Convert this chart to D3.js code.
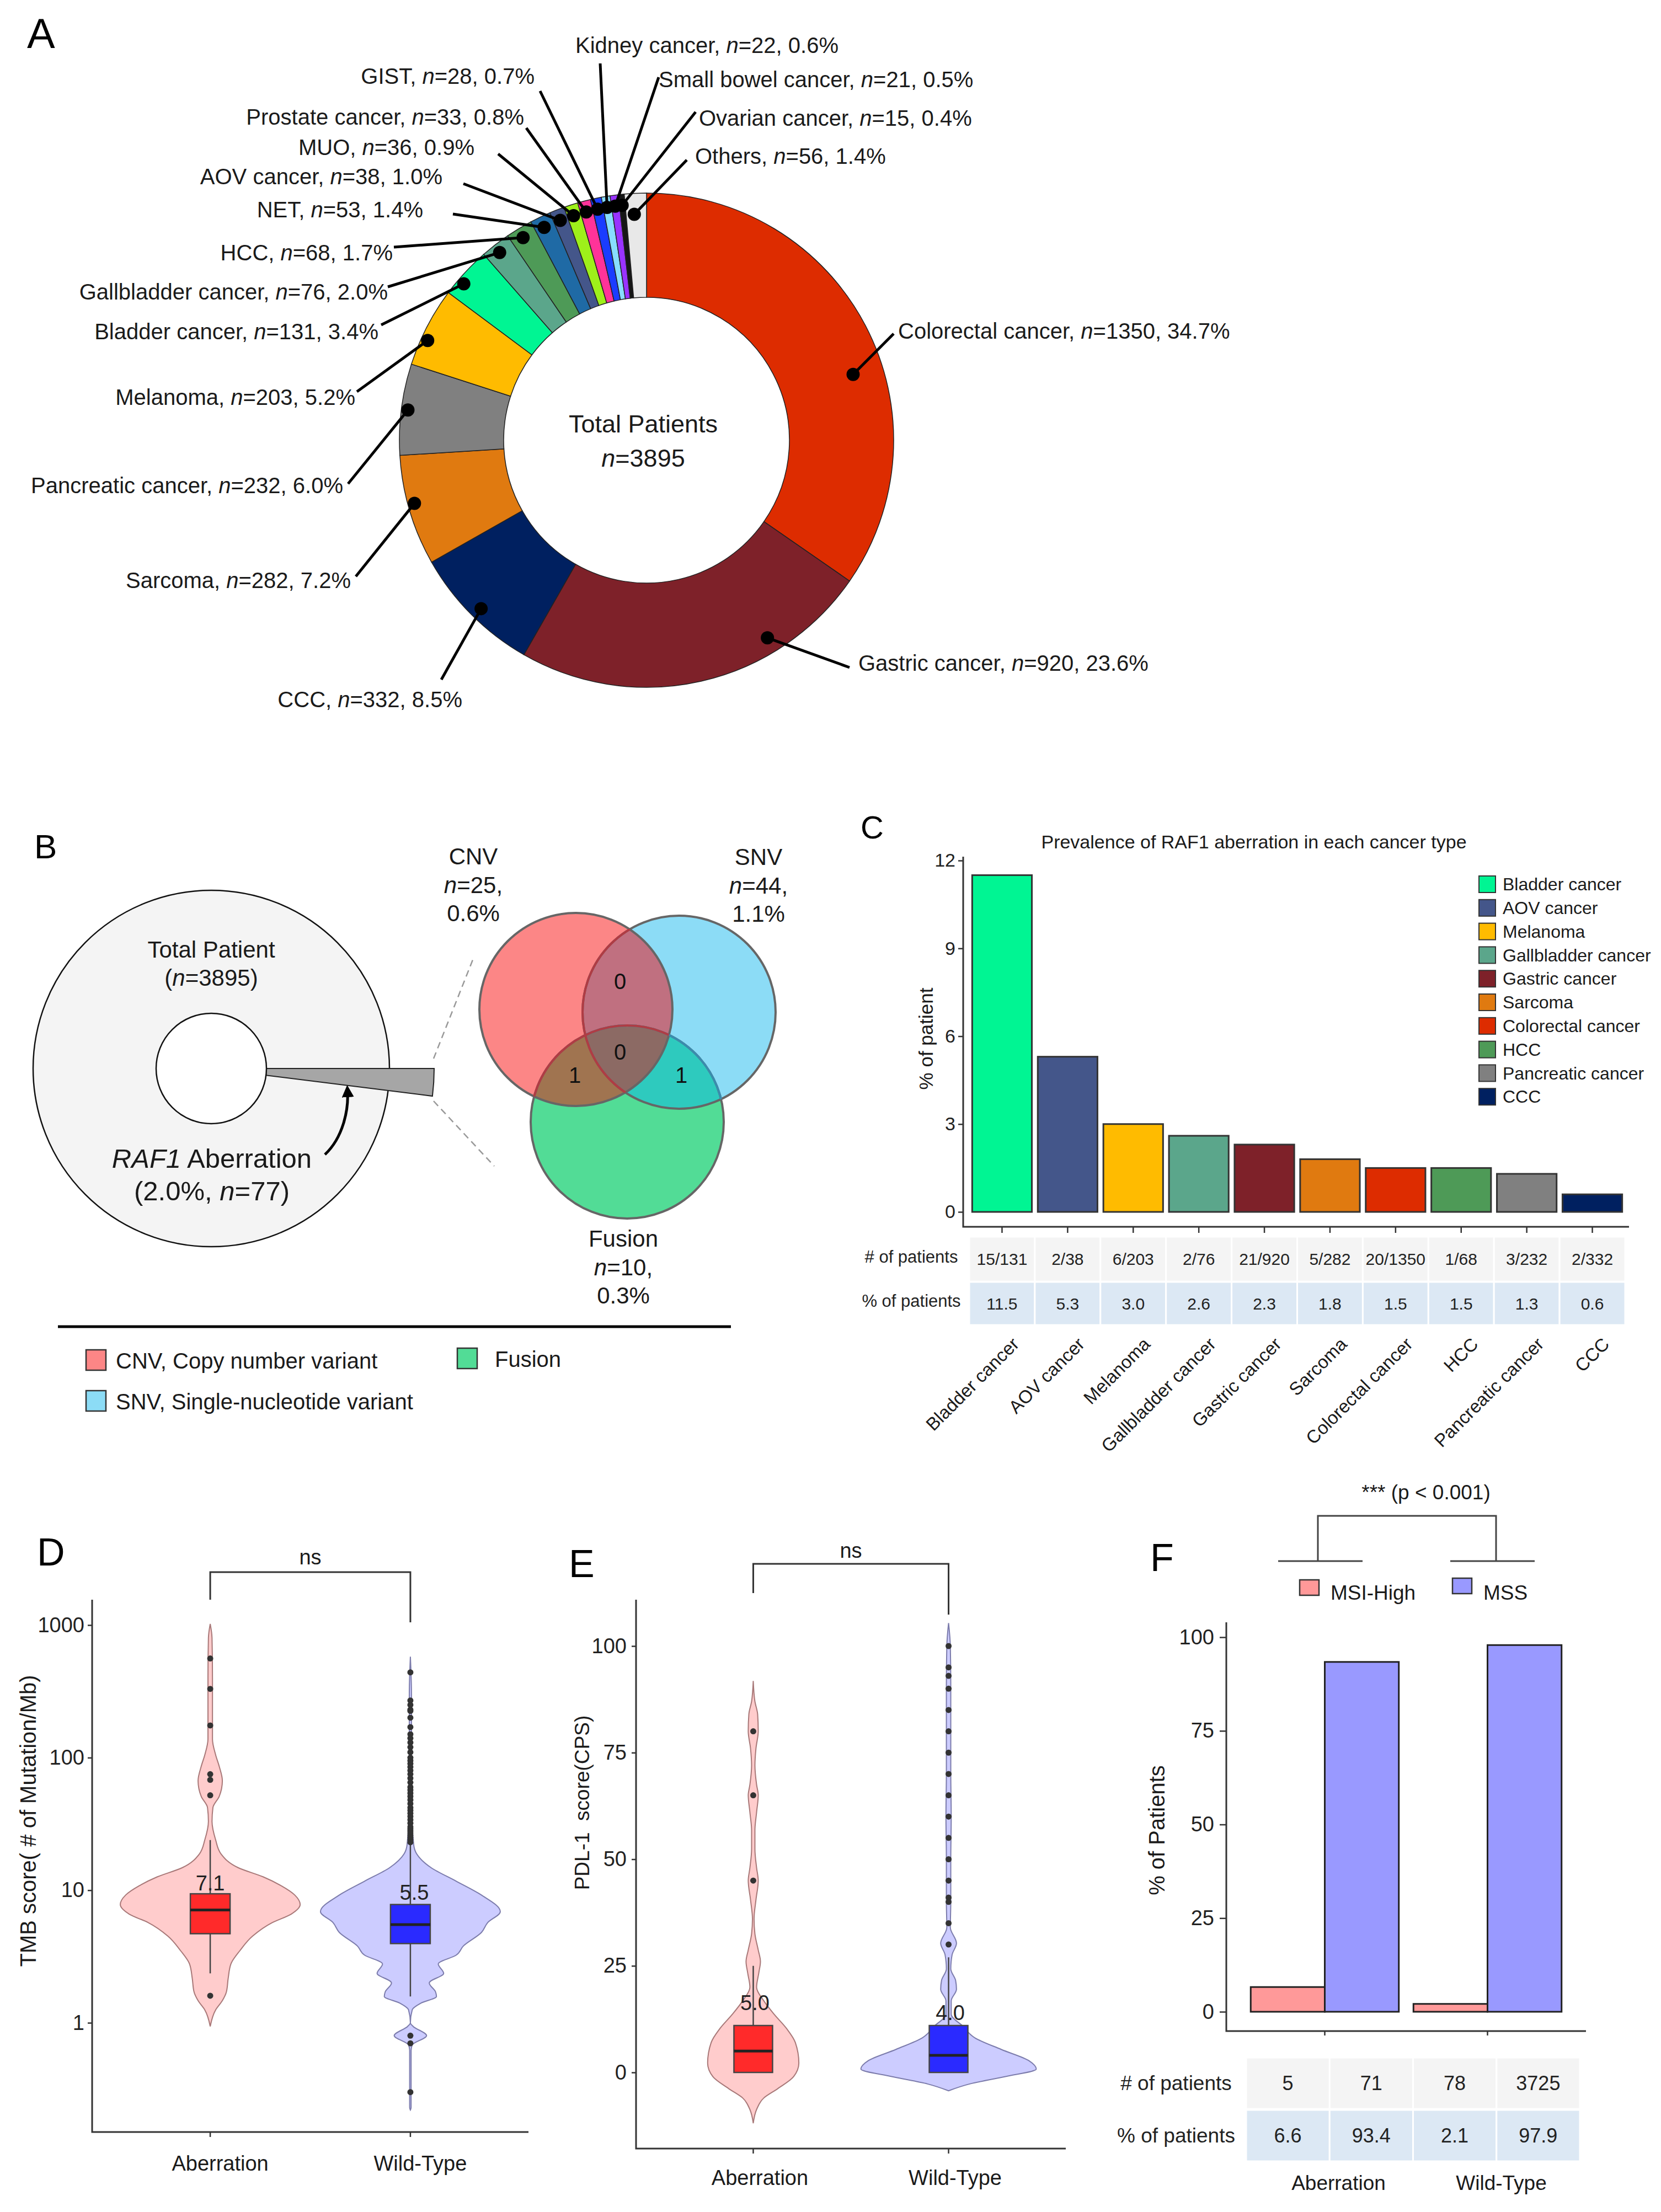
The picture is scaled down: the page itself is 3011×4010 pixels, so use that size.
<!DOCTYPE html>
<html>
<head>
<meta charset="utf-8">
<script src="https://cdn.jsdelivr.net/npm/d3@7"></script>
<style>
  body { margin: 0; background: #fff; }
  svg { display: block; font-family: "Liberation Sans", Arial, sans-serif; }
  text { white-space: pre; }
</style>
</head>
<body>
<div id="chart"></div>
<script>
// ---------- data ----------
// A: cancer types in the cohort
const cancerTypes = ['Colorectal cancer', 'Gastric cancer', 'CCC', 'Sarcoma', 'Pancreatic cancer', 'Melanoma',
  'Bladder cancer', 'Gallbladder cancer', 'HCC', 'NET', 'AOV cancer', 'MUO', 'Prostate cancer', 'GIST',
  'Kidney cancer', 'Small bowel cancer', 'Ovarian cancer', 'Others'];
const cancerN = [1350, 920, 332, 282, 232, 203, 131, 76, 68, 53, 38, 36, 33, 28, 22, 21, 15, 56];
const cancerPct = ['34.7', '23.6', '8.5', '7.2', '6.0', '5.2', '3.4', '2.0', '1.7', '1.4', '1.0', '0.9', '0.8', '0.7', '0.6', '0.5', '0.4', '1.4'];
const totalPatients = 3895;

// B: RAF1 aberration and venn
const raf1N = 77;
const raf1Pct = '2.0';
const vennSets = ['CNV', 'SNV', 'Fusion'];
const vennN = [25, 44, 10];
const vennPct = ['0.6', '1.1', '0.3'];
const vennOverlap = [0, 1, 1, 0]; // CNV&SNV, CNV&Fusion, SNV&Fusion, all three
const vennLegend = ['CNV, Copy number variant', 'SNV, Single-nucleotide variant', 'Fusion'];

// C: prevalence per cancer type
const raf1Types = ['Bladder cancer', 'AOV cancer', 'Melanoma', 'Gallbladder cancer', 'Gastric cancer', 'Sarcoma',
  'Colorectal cancer', 'HCC', 'Pancreatic cancer', 'CCC'];
const raf1Counts = ['15/131', '2/38', '6/203', '2/76', '21/920', '5/282', '20/1350', '1/68', '3/232', '2/332'];
const raf1Prev = [11.5, 5.3, 3.0, 2.6, 2.3, 1.8, 1.5, 1.5, 1.3, 0.6];
const raf1Ticks = [0, 3, 6, 9, 12];

// D: TMB (violin outline = value, relative density)
const groups = ['Aberration', 'Wild-Type'];
const tmbAbV = [1020, 800, 400, 200, 138, 105, 86, 67, 51, 42, 33, 24, 18.8, 14.8, 12.6, 10.8, 9.2, 7.8, 6.6, 5.7, 4.5, 3.5, 2.78, 2.17, 1.71, 1.47, 1.25, 0.94];
const tmbAbD = [0, 0.02, 0.025, 0.025, 0.025, 0.06, 0.1, 0.135, 0.1, 0.03, 0.02, 0.06, 0.12, 0.31, 0.59, 0.79, 0.94, 1.0, 0.9, 0.69, 0.47, 0.33, 0.23, 0.2, 0.18, 0.135, 0.06, 0];
const tmbWtV = [577, 300, 100, 40, 22, 18.8, 14.8, 11.7, 9.2, 6.9, 5.7, 4.8, 3.8, 3.24, 2.78, 2.36, 2.0, 1.71, 1.58, 1.41, 1.25, 1.0, 0.94, 0.8, 0.68, 0.62, 0.4, 0.23, 0.22];
const tmbWtD = [0, 0.012, 0.012, 0.015, 0.037, 0.07, 0.23, 0.51, 0.79, 1.0, 0.86, 0.79, 0.59, 0.51, 0.31, 0.37, 0.21, 0.28, 0.29, 0.12, 0.02, 0.0, 0.03, 0.18, 0.02, 0.008, 0.008, 0.008, 0];
const tmbBox = [[2.36, 4.7, 7.1, 9.4, 23.9], [1.58, 3.96, 5.5, 7.8, 22]]; // lo, q1, median, q3, hi
const tmbOutAb = [560, 330, 175, 75, 68, 52, 1.6];
const tmbOutWt = [440, 270, 250, 230, 225, 200, 170, 150, 140, 130, 120, 110, 100, 95, 90, 85, 80, 75, 70, 65, 60, 57,
  54, 51, 48, 45, 42, 40, 38, 36, 34, 32, 30, 29, 28, 27, 26, 25, 24, 23, 0.8, 0.7, 0.3];
const tmbTicks = [1, 10, 100, 1000];
const tmbLabelAt = [10, 8.5];

// E: PDL-1 CPS
const pdlAbV = [91.8, 87, 84, 80, 76, 72, 67.5, 65, 61, 56.8, 52.4, 48, 45, 40.5, 36, 32.5, 28.7, 26, 23.3, 20, 16.8, 13.6, 10.3, 7, 2.2, -1, -3.8, -6, -8.7, -11.9];
const pdlAbD = [0, 0.019, 0.05, 0.057, 0.031, 0.019, 0.038, 0.057, 0.038, 0.019, 0.019, 0.038, 0.057, 0.031, 0.009, 0.019, 0.057, 0.082, 0.063, 0.038, 0.12, 0.24, 0.38, 0.48, 0.52, 0.46, 0.28, 0.12, 0.038, 0];
const pdlWtV = [105.4, 100, 90, 80, 70, 60, 50, 40, 34, 30.3, 27.6, 24.3, 21.6, 19.5, 16.8, 13.6, 10.9, 8.1, 5.4, 2.7, 0.8, -1, -2.7, -4.3];
const pdlWtD = [0, 0.02, 0.025, 0.025, 0.025, 0.03, 0.025, 0.025, 0.02, 0.09, 0.04, 0.025, 0.08, 0.09, 0.03, 0.03, 0.16, 0.3, 0.6, 0.92, 1.0, 0.64, 0.24, 0];
const pdlBox = [[0, 0, 5.0, 11, 25], [0, 0, 4.0, 11, 27]];
const pdlOutAb = [80, 65, 45];
const pdlOutWt = [100, 95, 93, 90, 85, 80, 75, 70, 65, 60, 55, 50, 45, 41, 40, 35, 30];
const pdlTicks = [0, 25, 50, 75, 100];
const pdlLabelAt = [14.6, 12.3];

// F: MSI status
const msiSeries = ['MSI-High', 'MSS'];
const msiCounts = [[5, 71], [78, 3725]];
const msiPct = [[6.6, 93.4], [2.1, 97.9]];
const msiTicks = [0, 25, 50, 75, 100];

// ---------- styles / layout ----------
const cancerColor = {
  'Colorectal cancer': '#dd2c00', 'Gastric cancer': '#7e2129', 'CCC': '#002060', 'Sarcoma': '#e07a10',
  'Pancreatic cancer': '#808080', 'Melanoma': '#ffbb00', 'Bladder cancer': '#00f593', 'Gallbladder cancer': '#5ba68b',
  'HCC': '#4e9a57', 'NET': '#1f6aa5', 'AOV cancer': '#44568a', 'MUO': '#9ef01a', 'Prostate cancer': '#ff3399',
  'GIST': '#1a3cff', 'Kidney cancer': '#88ddff', 'Small bowel cancer': '#9933ff', 'Ovarian cancer': '#161616',
  'Others': '#e8e8e8'
};
const INK = '#1a1a1a';
const W = 3011, H = 4010;

const svg = d3.select('#chart').append('svg').attr('width', W).attr('height', H);
svg.append('rect').attr('width', W).attr('height', H).attr('fill', '#fff');

function rich(g, x, y, parts, size, anchor) {
  const t = g.append('text').attr('x', x).attr('y', y).attr('font-size', size)
    .attr('text-anchor', anchor || 'start').attr('fill', INK);
  parts.forEach(p => t.append('tspan').text(p[0]).attr('font-style', p[1] ? 'italic' : null));
  return t;
}
function letter(t, x, y, size) {
  svg.append('text').attr('x', x).attr('y', y).attr('font-size', size).attr('fill', '#000').text(t);
}
function yAxis(g, scale, x, ticks, size, tick, pad) {
  const a = g.append('g').attr('transform', `translate(${x},0)`)
    .call(d3.axisLeft(scale).tickValues(ticks).tickFormat(d3.format('d')).tickSize(tick).tickPadding(pad));
  a.attr('font-family', null).attr('font-size', size);
  a.select('.domain').remove();
  a.selectAll('line').attr('stroke', '#333').attr('stroke-width', 2.5);
  a.selectAll('text').attr('fill', '#222');
}
function frame(g, x0, x1, y0, y1) {
  g.append('path').attr('d', `M${x0},${y0}V${y1}H${x1}`).attr('fill', 'none')
    .attr('stroke', '#333').attr('stroke-width', 3);
}
function rotLabel(g, x, y, text, size) {
  g.append('text').attr('transform', `translate(${x},${y}) rotate(-90)`).attr('text-anchor', 'middle')
    .attr('dy', '0.35em').attr('font-size', size).attr('fill', INK).text(text);
}

// ---------- A: donut ----------
letter('A', 49, 87, 76);
const gA = svg.append('g');
const donut = { cx: 1172, cy: 798, rIn: 259, rOut: 448 };
const dotT = [0.58, 0.28, 0.48, 0.55, 0.5, 0.35, 0.32, 0.45, 0.45, 0.45, 0.45, 0.45, 0.45, 0.45, 0.45, 0.45, 0.45, 0.4];
const dotR = [393, 420, 428, 436, 436, 436, 436, 432, 430, 428, 428, 428, 428, 428, 428, 428, 428, 410];
const labelLine = [[1620, 605], [1540, 1210], [800, 1232], [645, 1045], [631, 877], [647, 710], [691, 589], [703, 520],
  [714, 448], [821, 388], [840, 333], [903, 279], [954, 232], [979, 165], [1088, 115], [1194, 140], [1261, 203], [1245, 290]];
const labelText = [[1628, 614, 'start'], [1556, 1216, 'start'], [838, 1282, 'end'], [636, 1066, 'end'], [622, 894, 'end'],
  [644, 734, 'end'], [686, 615, 'end'], [703, 543, 'end'], [712, 472, 'end'], [767, 394, 'end'], [802, 334, 'end'],
  [860, 281, 'end'], [950, 226, 'end'], [969, 152, 'end'], [1043, 96, 'start'], [1194, 158, 'start'],
  [1267, 228, 'start'], [1260, 297, 'start']];

const pieA = d3.pie().sort(null).value(d => d)(cancerN);
const arcA = d3.arc().innerRadius(donut.rIn).outerRadius(donut.rOut);
gA.append('g').attr('transform', `translate(${donut.cx},${donut.cy})`)
  .selectAll('path').data(pieA).join('path')
  .attr('d', arcA)
  .attr('fill', (d, i) => cancerColor[cancerTypes[i]])
  .attr('stroke', '#222').attr('stroke-width', 1.5);

const dots = pieA.map((d, i) => {
  const a = d.startAngle + dotT[i] * (d.endAngle - d.startAngle);
  return [donut.cx + dotR[i] * Math.sin(a), donut.cy - dotR[i] * Math.cos(a)];
});
gA.selectAll('line.lead').data(dots).join('line')
  .attr('x1', d => d[0]).attr('y1', d => d[1])
  .attr('x2', (d, i) => labelLine[i][0]).attr('y2', (d, i) => labelLine[i][1])
  .attr('stroke', '#000').attr('stroke-width', 5);
gA.selectAll('circle.dot').data(dots).join('circle')
  .attr('cx', d => d[0]).attr('cy', d => d[1]).attr('r', 12).attr('fill', '#000');
cancerTypes.forEach((c, i) => {
  const p = labelText[i];
  rich(gA, p[0], p[1], [[c + ', '], ['n', true], ['=' + cancerN[i] + ', ' + cancerPct[i] + '%']], 40, p[2]);
});
gA.append('text').attr('x', 1166).attr('y', 784).attr('text-anchor', 'middle').attr('font-size', 45)
  .attr('fill', INK).text('Total Patients');
rich(gA, 1166, 846, [['n', true], ['=' + totalPatients]], 45, 'middle');

// ---------- B: aberration share + venn ----------
letter('B', 62, 1556, 62);
const gB = svg.append('g');
const bc = { x: 383, y: 1937, r: 323, rIn: 100 };
gB.append('circle').attr('cx', bc.x).attr('cy', bc.y).attr('r', bc.r)
  .attr('fill', '#f4f4f4').attr('stroke', '#111').attr('stroke-width', 2.5);
const pieB = d3.pie().sort(null).startAngle(Math.PI / 2).endAngle(Math.PI / 2 + 2 * Math.PI)([raf1N, totalPatients - raf1N]);
gB.append('path').attr('transform', `translate(${bc.x},${bc.y})`)
  .attr('d', d3.arc().innerRadius(0).outerRadius(404)(pieB[0]))
  .attr('fill', '#a6a6a6').attr('stroke', '#222').attr('stroke-width', 2);
gB.append('circle').attr('cx', bc.x).attr('cy', bc.y).attr('r', bc.rIn)
  .attr('fill', '#fff').attr('stroke', '#111').attr('stroke-width', 2.5);
gB.append('text').attr('x', 383).attr('y', 1736).attr('text-anchor', 'middle').attr('font-size', 42)
  .attr('fill', INK).text('Total Patient');
rich(gB, 383, 1787, [['('], ['n', true], ['=' + totalPatients + ')']], 42, 'middle');
rich(gB, 384, 2117, [['RAF1', true], [' Aberration']], 49, 'middle');
rich(gB, 384, 2176, [['(' + raf1Pct + '%, '], ['n', true], ['=' + raf1N + ')']], 49, 'middle');

svg.append('defs').append('marker').attr('id', 'ah').attr('viewBox', '0 0 10 10')
  .attr('refX', 5).attr('refY', 5).attr('markerWidth', 22).attr('markerHeight', 22)
  .attr('markerUnits', 'userSpaceOnUse').attr('orient', 'auto')
  .append('path').attr('d', 'M0,0L10,5L0,10Z').attr('fill', '#000');
gB.append('path').attr('d', 'M589,2093 C622,2062 632,2012 630,1978')
  .attr('fill', 'none').attr('stroke', '#000').attr('stroke-width', 5).attr('marker-end', 'url(#ah)');
gB.append('line').attr('x1', 786).attr('y1', 1919).attr('x2', 857).attr('y2', 1740)
  .attr('stroke', '#999').attr('stroke-width', 2.5).attr('stroke-dasharray', '12,8');
gB.append('line').attr('x1', 786).attr('y1', 1996).attr('x2', 896).attr('y2', 2114)
  .attr('stroke', '#999').attr('stroke-width', 2.5).attr('stroke-dasharray', '12,8');

// venn
const vennC = [[1044, 1830], [1231, 1835], [1137, 2034]];
const vennR = 175;
const vennFill = ['#fc8686', '#8cdcf6', '#52dc96'];
const defs = svg.select('defs');
vennSets.forEach((s, i) => {
  defs.append('clipPath').attr('id', 'clip' + i).append('circle')
    .attr('cx', vennC[i][0]).attr('cy', vennC[i][1]).attr('r', vennR);
});
const gV = gB.append('g');
vennSets.forEach((s, i) => {
  gV.append('circle').attr('cx', vennC[i][0]).attr('cy', vennC[i][1]).attr('r', vennR).attr('fill', vennFill[i]);
});
function clipped(parent, ids) {
  let g = parent;
  ids.forEach(id => { g = g.append('g').attr('clip-path', `url(#clip${id})`); });
  return g;
}
const pairs = [[0, 1, '#c07080'], [0, 2, '#a07450'], [1, 2, '#2ecabe']];
pairs.forEach(p => {
  clipped(gV, [p[0]]).append('circle').attr('cx', vennC[p[1]][0]).attr('cy', vennC[p[1]][1])
    .attr('r', vennR).attr('fill', p[2]);
});
clipped(gV, [0, 1]).append('circle').attr('cx', vennC[2][0]).attr('cy', vennC[2][1])
  .attr('r', vennR).attr('fill', '#8c6a64');
vennSets.forEach((s, i) => {
  gV.append('circle').attr('cx', vennC[i][0]).attr('cy', vennC[i][1]).attr('r', vennR)
    .attr('fill', 'none').attr('stroke', '#666').attr('stroke-width', 4);
});
// edges tinted by the fills drawn over them
clipped(gV, [1]).append('circle').attr('cx', vennC[2][0]).attr('cy', vennC[2][1]).attr('r', vennR)
  .attr('fill', 'none').attr('stroke', '#3a8cae').attr('stroke-width', 4);
[1, 2].forEach(j => {
  clipped(gV, [0]).append('circle').attr('cx', vennC[j][0]).attr('cy', vennC[j][1]).attr('r', vennR)
    .attr('fill', 'none').attr('stroke', '#b03c44').attr('stroke-width', 4);
});
const overlapAt = [[1124, 1793], [1042, 1963], [1235, 1963], [1124, 1921]];
vennOverlap.forEach((v, i) => {
  gV.append('text').attr('x', overlapAt[i][0]).attr('y', overlapAt[i][1]).attr('text-anchor', 'middle')
    .attr('font-size', 40).attr('fill', '#111').text(v);
});
const vennLab = [[858, 1567], [1375, 1568], [1130, 2260]];
vennSets.forEach((s, i) => {
  const [x, y] = vennLab[i];
  rich(gV, x, y, [[s]], 42, 'middle');
  rich(gV, x, y + 52, [['n', true], ['=' + vennN[i] + ',']], 42, 'middle');
  rich(gV, x, y + 103, [[vennPct[i] + '%']], 42, 'middle');
});
gB.append('line').attr('x1', 105).attr('x2', 1325).attr('y1', 2405).attr('y2', 2405)
  .attr('stroke', '#000').attr('stroke-width', 5);
const legB = [[156, 2447, 0], [156, 2521, 1], [829, 2444, 2]];
legB.forEach(l => {
  gB.append('rect').attr('x', l[0]).attr('y', l[1]).attr('width', 36).attr('height', 37)
    .attr('fill', vennFill[l[2]]).attr('stroke', '#333').attr('stroke-width', 2.5);
  gB.append('text').attr('x', l[0] + (l[2] === 2 ? 68 : 54)).attr('y', l[1] + 34).attr('font-size', 40)
    .attr('fill', INK).text(vennLegend[l[2]]);
});

// ---------- C: prevalence bars ----------
letter('C', 1560, 1520, 58);
const gC = svg.append('g');
const xC = d3.scaleBand().domain(raf1Types).range([1757, 2946]).paddingInner(0.09).paddingOuter(0.045);
const yC = d3.scaleLinear().domain([0, 12]).range([2197, 1560]);
gC.append('text').attr('x', 2273).attr('y', 1538).attr('text-anchor', 'middle').attr('font-size', 34)
  .attr('fill', INK).text('Prevalence of RAF1 aberration in each cancer type');
gC.selectAll('rect.bar').data(raf1Types).join('rect')
  .attr('x', d => xC(d)).attr('width', xC.bandwidth())
  .attr('y', (d, i) => yC(raf1Prev[i])).attr('height', (d, i) => yC(0) - yC(raf1Prev[i]))
  .attr('fill', d => cancerColor[d]).attr('stroke', '#333').attr('stroke-width', 3);
frame(gC, 1746, 2953, 1553, 2224);
yAxis(gC, yC, 1746, raf1Ticks, 34, 9, 5);
gC.selectAll('line.xt').data(raf1Types).join('line')
  .attr('x1', d => xC(d) + xC.bandwidth() / 2).attr('x2', d => xC(d) + xC.bandwidth() / 2)
  .attr('y1', 2224).attr('y2', 2235).attr('stroke', '#333').attr('stroke-width', 2.5);
rotLabel(gC, 1679, 1883, '% of patient', 35);
// legend
raf1Types.forEach((t, i) => {
  const y = 1603 + i * 42.8;
  gC.append('rect').attr('x', 2681).attr('y', y - 15).attr('width', 30).attr('height', 30)
    .attr('fill', cancerColor[t]).attr('stroke', '#333').attr('stroke-width', 2);
  gC.append('text').attr('x', 2724).attr('y', y).attr('dy', '0.35em').attr('font-size', 32)
    .attr('fill', INK).text(t);
});
// table
const rowsC = [{ lab: '# of patients', y: 2242, h: 81, fill: '#f4f4f4', vals: raf1Counts },
  { lab: '% of patients', y: 2324, h: 78, fill: '#dce8f4', vals: raf1Prev.map(d3.format('.1f')) }];
rowsC.forEach(r => {
  gC.selectAll(null).data(raf1Types).join('rect')
    .attr('x', d => xC(d) - xC.step() * 0.045).attr('width', xC.step())
    .attr('y', r.y).attr('height', r.h).attr('fill', r.fill).attr('stroke', '#fff').attr('stroke-width', 3);
  gC.selectAll(null).data(raf1Types).join('text')
    .attr('x', d => xC(d) + xC.bandwidth() / 2).attr('y', r.y + r.h / 2).attr('dy', '0.35em')
    .attr('text-anchor', 'middle').attr('font-size', 30).attr('fill', '#222')
    .text((d, i) => r.vals[i]);
  gC.append('text').attr('x', 1652).attr('y', r.y + r.h / 2).attr('dy', '0.2em').attr('text-anchor', 'middle')
    .attr('font-size', 31).attr('fill', '#222').text(r.lab);
});
gC.selectAll('text.xl').data(raf1Types).join('text')
  .attr('transform', d => `translate(${xC(d) + xC.bandwidth() / 2 + 16},2422) rotate(-45)`)
  .attr('text-anchor', 'end').attr('dy', '0.72em').attr('font-size', 33).attr('fill', INK).text(d => d);

// ---------- violin helpers ----------
function violin(g, cx, vals, dens, y, w, fill, stroke) {
  const pts = vals.map((v, i) => [v, dens[i]]);
  const area = d3.area().curve(d3.curveMonotoneY)
    .y(d => y(d[0])).x0(d => cx - w(d[1])).x1(d => cx + w(d[1]));
  g.append('path').attr('d', area(pts)).attr('fill', fill).attr('stroke', stroke).attr('stroke-width', 2);
}
function boxplot(g, cx, s, y, hw, fill) {
  g.append('line').attr('x1', cx).attr('x2', cx).attr('y1', y(s[3])).attr('y2', y(s[4]))
    .attr('stroke', '#444').attr('stroke-width', 2.5);
  g.append('line').attr('x1', cx).attr('x2', cx).attr('y1', y(s[1])).attr('y2', y(s[0]))
    .attr('stroke', '#444').attr('stroke-width', 2.5);
  g.append('rect').attr('x', cx - hw).attr('width', 2 * hw).attr('y', y(s[3])).attr('height', y(s[1]) - y(s[3]))
    .attr('fill', fill).attr('stroke', '#444').attr('stroke-width', 2.5);
  g.append('line').attr('x1', cx - hw).attr('x2', cx + hw).attr('y1', y(s[2])).attr('y2', y(s[2]))
    .attr('stroke', '#222').attr('stroke-width', 5);
}
function outliers(g, cx, vals, y) {
  g.selectAll(null).data(vals).join('circle').attr('cx', cx).attr('cy', d => y(d)).attr('r', 5.5).attr('fill', '#333');
}
function bracket(g, x0, x1, yTop, yL, yR, label, ly) {
  g.append('path').attr('d', `M${x0},${yL}V${yTop}H${x1}V${yR}`).attr('fill', 'none')
    .attr('stroke', '#333').attr('stroke-width', 3);
  g.append('text').attr('x', (x0 + x1) / 2).attr('y', ly).attr('text-anchor', 'middle')
    .attr('font-size', 38).attr('fill', INK).text(label);
}
const violinFill = ['#ffcccc', '#ccccff'], violinStroke = ['#a87878', '#7c7cac'], boxFill = ['#ff2a2a', '#2a2aff'];

// ---------- D: TMB ----------
letter('D', 67, 2838, 70);
const gD = svg.append('g');
const xD = d3.scalePoint().domain(groups).range([167, 958]).padding(0.59);
const yD = d3.scaleLog().domain([1, 1000]).range([3667, 2946]);
const wD = d3.scaleLinear().domain([0, 1]).range([0, 163]);
violin(gD, xD(groups[0]), tmbAbV, tmbAbD, yD, wD, violinFill[0], violinStroke[0]);
violin(gD, xD(groups[1]), tmbWtV, tmbWtD, yD, wD, violinFill[1], violinStroke[1]);
groups.forEach((g, i) => boxplot(gD, xD(g), tmbBox[i], yD, 36, boxFill[i]));
outliers(gD, xD(groups[0]), tmbOutAb, yD);
outliers(gD, xD(groups[1]), tmbOutWt, yD);
groups.forEach((g, i) => {
  gD.append('text').attr('x', xD(g) + (i ? 7 : 0)).attr('y', yD(tmbLabelAt[i])).attr('text-anchor', 'middle')
    .attr('font-size', 38).attr('fill', '#222').text(d3.format('.1f')(tmbBox[i][2]));
});
frame(gD, 167, 958, 2900, 3865);
yAxis(gD, yD, 167, tmbTicks, 38, 8, 6);
groups.forEach(g => {
  gD.append('line').attr('x1', xD(g)).attr('x2', xD(g)).attr('y1', 3865).attr('y2', 3874)
    .attr('stroke', '#333').attr('stroke-width', 2.5);
  gD.append('text').attr('x', xD(g) + 18).attr('y', 3935).attr('text-anchor', 'middle').attr('font-size', 38)
    .attr('fill', INK).text(g);
});
rotLabel(gD, 51, 3301, 'TMB score( # of Mutation/Mb)', 40);
bracket(gD, xD(groups[0]), xD(groups[1]), 2850, 2900, 2941, 'ns', 2836);

// ---------- E: PDL-1 ----------
letter('E', 1031, 2859, 70);
const gE = svg.append('g');
const xE = d3.scalePoint().domain(groups).range([1153, 1932]).padding(0.6);
const yE = d3.scaleLinear().domain([0, 100]).range([3757, 2984]);
const wE = d3.scaleLinear().domain([0, 1]).range([0, 159]);
violin(gE, xE(groups[0]), pdlAbV, pdlAbD, yE, wE, violinFill[0], violinStroke[0]);
violin(gE, xE(groups[1]), pdlWtV, pdlWtD, yE, wE, violinFill[1], violinStroke[1]);
groups.forEach((g, i) => boxplot(gE, xE(g), pdlBox[i], yE, 35, boxFill[i]));
outliers(gE, xE(groups[0]), pdlOutAb, yE);
outliers(gE, xE(groups[1]), pdlOutWt, yE);
groups.forEach((g, i) => {
  gE.append('text').attr('x', xE(g) + 3).attr('y', yE(pdlLabelAt[i])).attr('text-anchor', 'middle')
    .attr('font-size', 38).attr('fill', '#222').text(d3.format('.1f')(pdlBox[i][2]));
});
frame(gE, 1153, 1932, 2900, 3895);
yAxis(gE, yE, 1153, pdlTicks, 38, 8, 9);
groups.forEach(g => {
  gE.append('line').attr('x1', xE(g)).attr('x2', xE(g)).attr('y1', 3895).attr('y2', 3904)
    .attr('stroke', '#333').attr('stroke-width', 2.5);
  gE.append('text').attr('x', xE(g) + 12).attr('y', 3961).attr('text-anchor', 'middle').attr('font-size', 38)
    .attr('fill', INK).text(g);
});
rotLabel(gE, 1055, 3268, 'PDL-1  score(CPS)', 37);
bracket(gE, xE(groups[0]), xE(groups[1]), 2835, 2888, 2927, 'ns', 2824);

// ---------- F: MSI ----------
letter('F', 2085, 2848, 70);
const gF = svg.append('g');
const xF = d3.scaleBand().domain(groups).range([2223, 2875]).paddingInner(0.09).paddingOuter(0.15);
const xFs = d3.scaleBand().domain(msiSeries).range([0, xF.bandwidth()]);
const yF = d3.scaleLinear().domain([0, 100]).range([3647, 2968]);
const msiColor = ['#ff9999', '#9999ff'];
groups.forEach((g, gi) => {
  msiSeries.forEach((s, si) => {
    gF.append('rect').attr('x', xF(g) + xFs(s)).attr('width', xFs.bandwidth())
      .attr('y', yF(msiPct[gi][si])).attr('height', yF(0) - yF(msiPct[gi][si]))
      .attr('fill', msiColor[si]).attr('stroke', '#222').attr('stroke-width', 3);
  });
});
frame(gF, 2223, 2875, 2941, 3682);
yAxis(gF, yF, 2223, msiTicks, 38, 12, 10);
groups.forEach(g => {
  const c = xF(g) + xF.bandwidth() / 2;
  gF.append('line').attr('x1', c).attr('x2', c).attr('y1', 3682).attr('y2', 3690)
    .attr('stroke', '#333').attr('stroke-width', 2.5);
  gF.append('text').attr('x', c + 25).attr('y', 3970).attr('text-anchor', 'middle').attr('font-size', 37)
    .attr('fill', INK).text(g);
});
rotLabel(gF, 2097, 3318, '% of Patients', 40);
// legend + bracket
[[2356, 2864, 2412], [2633, 2861, 2689]].forEach((l, i) => {
  gF.append('rect').attr('x', l[0]).attr('y', l[1]).attr('width', 35).attr('height', 28)
    .attr('fill', msiColor[i]).attr('stroke', '#333').attr('stroke-width', 2.5);
  gF.append('text').attr('x', l[2]).attr('y', 2900).attr('font-size', 37).attr('fill', INK).text(msiSeries[i]);
});
gF.append('path').attr('d', 'M2317,2830H2470M2389,2830V2748H2712V2830M2629,2830H2782')
  .attr('fill', 'none').attr('stroke', '#444').attr('stroke-width', 3);
gF.append('text').attr('x', 2585).attr('y', 2718).attr('text-anchor', 'middle').attr('font-size', 37)
  .attr('fill', INK).text('*** (p < 0.001)');
// table
const cols = groups.flatMap(g => msiSeries.map(s => g + '|' + s));
const xT = d3.scaleBand().domain(cols).range([2259, 2864]);
const rowsF = [{ lab: '# of patients', y: 3730, h: 93, fill: '#f4f4f4', vals: msiCounts.flat() },
  { lab: '% of patients', y: 3825, h: 93, fill: '#dce8f4', vals: msiPct.flat().map(d3.format('.1f')) }];
rowsF.forEach(r => {
  gF.selectAll(null).data(cols).join('rect')
    .attr('x', d => xT(d)).attr('width', xT.bandwidth()).attr('y', r.y).attr('height', r.h)
    .attr('fill', r.fill).attr('stroke', '#fff').attr('stroke-width', 3);
  gF.selectAll(null).data(cols).join('text')
    .attr('x', d => xT(d) + xT.bandwidth() / 2).attr('y', r.y + r.h / 2).attr('dy', '0.35em')
    .attr('text-anchor', 'middle').attr('font-size', 36).attr('fill', '#222').text((d, i) => r.vals[i]);
  gF.append('text').attr('x', 2132).attr('y', r.y + r.h / 2).attr('dy', '0.35em').attr('text-anchor', 'middle')
    .attr('font-size', 37).attr('fill', '#222').text(r.lab);
});
</script>
</body>
</html>
